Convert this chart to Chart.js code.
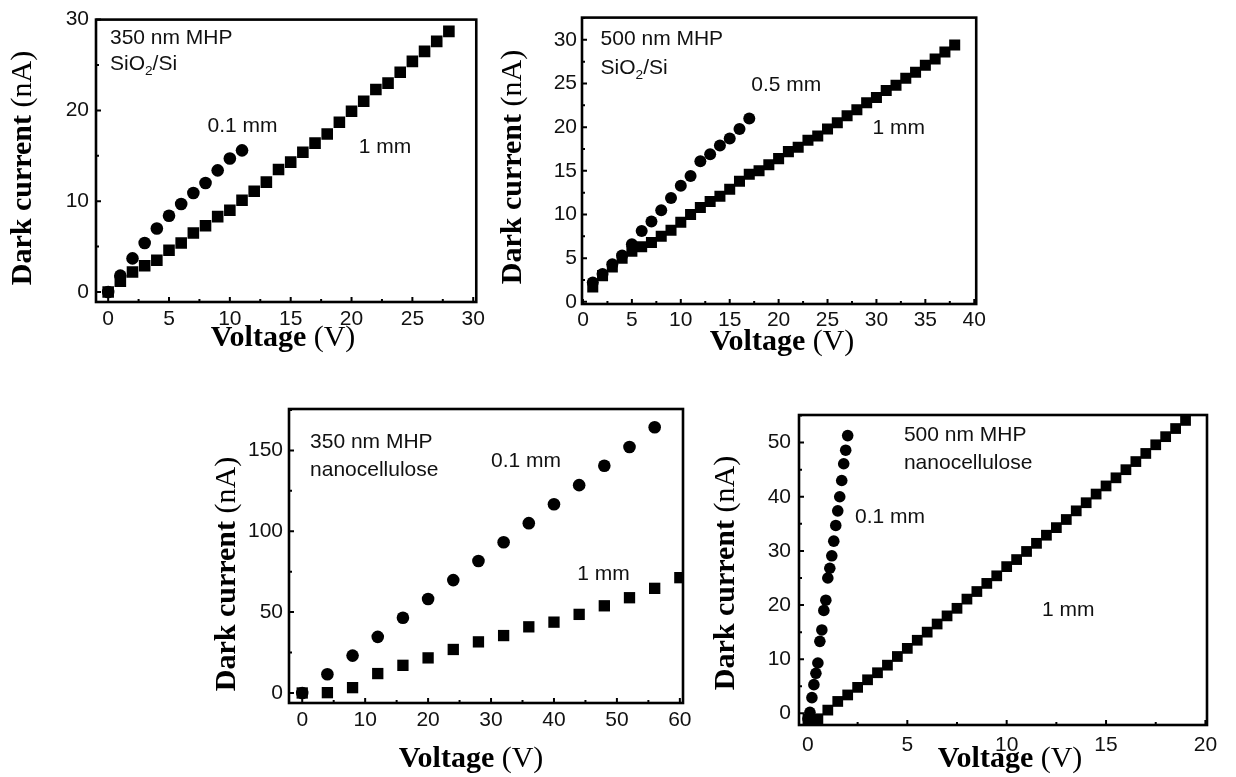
<!DOCTYPE html>
<html>
<head>
<meta charset="utf-8">
<script src="https://cdn.jsdelivr.net/npm/chart.js@4.4.1/dist/chart.umd.min.js"></script>
<style>
body { margin: 0; background: #fff; width: 1236px; height: 777px; overflow: hidden; position: relative; }
canvas { position: absolute; }
</style>
</head>
<body>
<canvas id="c1" width="490" height="365" style="left:0px;top:0px"></canvas>
<canvas id="c2" width="500" height="365" style="left:490px;top:0px"></canvas>
<canvas id="c3" width="510" height="397" style="left:190px;top:380px"></canvas>
<canvas id="c4" width="536" height="397" style="left:700px;top:380px"></canvas>
<script>
// panel a: 350 nm MHP on SiO2/Si
const aVolt1mm = [0, 1, 2, 3, 4, 5, 6, 7, 8, 9, 10, 11, 12, 13, 14, 15, 16, 17, 18, 19, 20, 21, 22, 23, 24, 25, 26, 27, 28]
const aCur1mm = [0, 1.2, 2.2, 2.9, 3.5, 4.6, 5.4, 6.5, 7.3, 8.3, 9.0, 10.1, 11.1, 12.1, 13.5, 14.3, 15.4, 16.4, 17.4, 18.7, 19.9, 21.0, 22.3, 23.0, 24.2, 25.4, 26.5, 27.6, 28.7]
const aVolt01mm = [0, 1, 2, 3, 4, 5, 6, 7, 8, 9, 10, 11]
const aCur01mm = [0, 1.8, 3.7, 5.4, 7.0, 8.4, 9.7, 10.9, 12.0, 13.4, 14.7, 15.6]
const aXTicks = [0, 5, 10, 15, 20, 25, 30]
const aYTicks = [0, 10, 20, 30]

// panel b: 500 nm MHP on SiO2/Si
const bVolt1mm = [1, 2, 3, 4, 5, 6, 7, 8, 9, 10, 11, 12, 13, 14, 15, 16, 17, 18, 19, 20, 21, 22, 23, 24, 25, 26, 27, 28, 29, 30, 31, 32, 33, 34, 35, 36, 37, 38]
const bCur1mm = [1.7, 3.0, 4.0, 5.0, 5.8, 6.3, 6.8, 7.5, 8.2, 9.1, 10.0, 10.8, 11.5, 12.1, 12.9, 13.8, 14.6, 15.0, 15.7, 16.4, 17.2, 17.7, 18.5, 19.0, 19.8, 20.5, 21.3, 22.0, 22.8, 23.4, 24.2, 24.8, 25.6, 26.3, 27.1, 27.8, 28.6, 29.4]
const bVolt05mm = [1, 2, 3, 4, 5, 6, 7, 8, 9, 10, 11, 12, 13, 14, 15, 16, 17]
const bCur05mm = [2.2, 3.2, 4.3, 5.3, 6.6, 8.1, 9.2, 10.5, 11.9, 13.3, 14.4, 16.1, 16.9, 17.9, 18.7, 19.8, 21.0]
const bXTicks = [0, 5, 10, 15, 20, 25, 30, 35, 40]
const bYTicks = [0, 5, 10, 15, 20, 25, 30]

// panel c: 350 nm MHP on nanocellulose
const cVolt01mm = [0, 4, 8, 12, 16, 20, 24, 28, 32, 36, 40, 44, 48, 52, 56]
const cCur01mm = [0, 11.6, 23.1, 34.7, 46.5, 58.1, 69.8, 81.6, 93.2, 105.0, 116.7, 128.5, 140.5, 152.1, 164.3]
const cVolt1mm = [0, 4, 8, 12, 16, 20, 24, 28, 32, 36, 40, 44, 48, 52, 56, 60]
const cCur1mm = [0, 0.2, 3.3, 12.0, 17.1, 21.7, 26.9, 31.6, 35.5, 40.9, 43.8, 48.6, 53.9, 58.9, 64.7, 71.3]
const cXTicks = [0, 10, 20, 30, 40, 50, 60]
const cYTicks = [0, 50, 100, 150]

// panel d: 500 nm MHP on nanocellulose
const dVolt01mm = [0, 0.1, 0.2, 0.3, 0.4, 0.5, 0.6, 0.7, 0.8, 0.9, 1.0, 1.1, 1.2, 1.3, 1.4, 1.5, 1.6, 1.7, 1.8, 1.9, 2.0]
const dCur01mm = [-1.0, 0.2, 2.9, 5.3, 7.4, 9.3, 13.3, 15.4, 19.0, 20.9, 25.0, 26.8, 29.1, 31.8, 34.7, 37.4, 40.0, 43.0, 46.1, 48.6, 51.3]
const dVolt1mm = [0, 0.5, 1, 1.5, 2, 2.5, 3, 3.5, 4, 4.5, 5, 5.5, 6, 6.5, 7, 7.5, 8, 8.5, 9, 9.5, 10, 10.5, 11, 11.5, 12, 12.5, 13, 13.5, 14, 14.5, 15, 15.5, 16, 16.5, 17, 17.5, 18, 18.5, 19]
const dCur1mm = [-1.0, -1.0, 0.6, 2.2, 3.4, 4.8, 6.2, 7.5, 8.9, 10.5, 12.0, 13.5, 15.0, 16.5, 18.0, 19.4, 21.1, 22.5, 24.0, 25.4, 27.1, 28.4, 29.9, 31.4, 32.9, 34.3, 35.8, 37.4, 38.9, 40.5, 42.0, 43.5, 45.0, 46.5, 48.0, 49.6, 51.1, 52.6, 54.1]
const dXTicks = [0, 5, 10, 15, 20]
const dYTicks = [0, 10, 20, 30, 40, 50]

const SANS = '"Liberation Sans", Arial, sans-serif'
const SERIF = '"Liberation Serif", "Times New Roman", serif'
const FS = 21

// text pieces: [string, bold?, subscript?]
function drawParts(ctx, parts, x, y, size, family, center) {
  let w = 0
  parts.forEach(p => {
    ctx.font = (p[1] ? 'bold ' : '') + (p[2] ? size * 0.65 : size) + 'px ' + family
    w += ctx.measureText(p[0]).width
  })
  let cx = center ? x - w / 2 : x
  parts.forEach(p => {
    ctx.font = (p[1] ? 'bold ' : '') + (p[2] ? size * 0.65 : size) + 'px ' + family
    ctx.fillText(p[0], cx, y + (p[2] ? size * 0.32 : 0))
    cx += ctx.measureText(p[0]).width
  })
}

const decor = {
  id: 'decor',
  afterDatasetsDraw(chart, args, o) {
    const ctx = chart.ctx
    const a = chart.chartArea
    const xs = chart.scales.x, ys = chart.scales.y
    ctx.save()
    ctx.strokeStyle = '#000'
    ctx.fillStyle = '#000'

    // inward tick marks, major + minor
    ctx.lineWidth = 2
    const marks = (scale, vals) => {
      const out = []
      vals.forEach((v, i) => {
        out.push([v, 5])
        const step = i < vals.length - 1 ? vals[i + 1] - v : v - vals[i - 1]
        const m = v + step / 2
        if (m > scale.min && m < scale.max) out.push([m, 3])
      })
      return out
    }
    ctx.beginPath()
    marks(xs, xs.ticks.map(t => t.value)).forEach(([v, len]) => {
      const px = xs.getPixelForValue(v)
      ctx.moveTo(px, a.bottom)
      ctx.lineTo(px, a.bottom - len)
    })
    marks(ys, ys.ticks.map(t => t.value)).forEach(([v, len]) => {
      const py = ys.getPixelForValue(v)
      ctx.moveTo(a.left, py)
      ctx.lineTo(a.left + len, py)
    })
    ctx.stroke()

    // frame
    ctx.lineWidth = 2.6
    ctx.strokeRect(a.left, a.top, a.right - a.left, a.bottom - a.top)

    // notes inside the plot
    ctx.fillStyle = '#111'
    ctx.textBaseline = 'middle'
    ctx.textAlign = 'left'
    o.notes.forEach(n => {
      drawParts(ctx, n.parts, xs.getPixelForValue(n.x), ys.getPixelForValue(n.y), FS, SANS, false)
    })

    // axis titles
    ctx.fillStyle = '#000'
    drawParts(ctx, [['Voltage ', true], ['(V)', false]], o.xTitle[0], o.xTitle[1], 30, SERIF, true)
    ctx.translate(o.yTitle[0], o.yTitle[1])
    ctx.rotate(-Math.PI / 2)
    drawParts(ctx, [['Dark current ', true], ['(nA)', false]], 0, 0, 30, SERIF, true)
    ctx.restore()
  }
}

function series(xv, yv, style, r) {
  return {
    data: xv.map((v, i) => ({ x: v, y: yv[i] })),
    pointStyle: style,
    pointRadius: r,
    pointHoverRadius: r,
    backgroundColor: '#000',
    borderColor: '#000',
    borderWidth: 0,
    showLine: false,
    clip: 0
  }
}

function panel(id, c) {
  return new Chart(document.getElementById(id), {
    type: 'scatter',
    data: { datasets: c.sets },
    options: {
      responsive: false,
      animation: false,
      events: [],
      layout: { padding: { left: 0, top: c.padTop, right: c.padRight, bottom: 0 } },
      plugins: {
        legend: { display: false },
        tooltip: { enabled: false },
        decor: { notes: c.notes, xTitle: c.xTitle, yTitle: c.yTitle }
      },
      scales: {
        x: {
          type: 'linear',
          min: c.xMin, max: c.xMax,
          afterBuildTicks: s => { s.ticks = c.xTicks.map(v => ({ value: v })) },
          afterFit: s => { s.height = c.xH },
          grid: { display: false, drawTicks: false },
          border: { display: false },
          ticks: { font: { family: SANS, size: FS }, color: '#111', padding: c.xPad, maxRotation: 0 }
        },
        y: {
          type: 'linear',
          min: c.yMin, max: c.yMax,
          afterBuildTicks: s => { s.ticks = c.yTicks.map(v => ({ value: v })) },
          afterFit: s => { s.width = c.yW },
          grid: { display: false, drawTicks: false },
          border: { display: false },
          ticks: { font: { family: SANS, size: FS }, color: '#111', padding: c.yPad }
        }
      }
    },
    plugins: [decor]
  })
}

panel('c1', {
  sets: [series(aVolt1mm, aCur1mm, 'rect', 8.2), series(aVolt01mm, aCur01mm, 'circle', 6.3)],
  xMin: -1.0, xMax: 30.25, yMin: -1.1, yMax: 30,
  xTicks: aXTicks, yTicks: aYTicks,
  padTop: 18, padRight: 12, xH: 63, yW: 96, xPad: 5, yPad: 7,
  xTitle: [283, 338], yTitle: [23, 168],
  notes: [
    { x: 0.15, y: 28.0, parts: [['350 nm MHP']] },
    { x: 0.15, y: 25.1, parts: [['SiO'], ['2', false, true], ['/Si']] },
    { x: 8.17, y: 18.3, parts: [['0.1 mm']] },
    { x: 20.6, y: 15.9, parts: [['1 mm']] }
  ]
})

panel('c2', {
  sets: [series(bVolt1mm, bCur1mm, 'rect', 7.8), series(bVolt05mm, bCur05mm, 'circle', 6)],
  xMin: -0.1, xMax: 40.2, yMin: -0.25, yMax: 32.55,
  xTicks: bXTicks, yTicks: bYTicks,
  padTop: 13, padRight: 13, xH: 61, yW: 92, xPad: 4, yPad: 5,
  xTitle: [292, 342], yTitle: [23, 167],
  notes: [
    { x: 1.8, y: 30.1, parts: [['500 nm MHP']] },
    { x: 1.8, y: 26.7, parts: [['SiO'], ['2', false, true], ['/Si']] },
    { x: 17.2, y: 24.8, parts: [['0.5 mm']] },
    { x: 29.6, y: 19.9, parts: [['1 mm']] }
  ]
})

panel('c3', {
  sets: [series(cVolt1mm, cCur1mm, 'rect', 8), series(cVolt01mm, cCur01mm, 'circle', 6.3)],
  xMin: -2.1, xMax: 60.5, yMin: -6.2, yMax: 175.6,
  xTicks: cXTicks, yTicks: cYTicks,
  padTop: 29, padRight: 17, xH: 74, yW: 99, xPad: 5, yPad: 6,
  xTitle: [281, 379], yTitle: [37, 194],
  notes: [
    { x: 1.24, y: 155.2, parts: [['350 nm MHP']] },
    { x: 1.24, y: 137.9, parts: [['nanocellulose']] },
    { x: 30.0, y: 143.4, parts: [['0.1 mm']] },
    { x: 43.7, y: 73.6, parts: [['1 mm']] }
  ]
})

panel('c4', {
  sets: [series(dVolt1mm, dCur1mm, 'rect', 7.6), series(dVolt01mm, dCur01mm, 'circle', 5.8)],
  xMin: -0.45, xMax: 20.08, yMin: -2.15, yMax: 55.1,
  xTicks: dXTicks, yTicks: dYTicks,
  padTop: 35, padRight: 29, xH: 52, yW: 99, xPad: 8, yPad: 8,
  xTitle: [310, 379], yTitle: [26, 193],
  notes: [
    { x: 4.83, y: 51.4, parts: [['500 nm MHP']] },
    { x: 4.83, y: 46.2, parts: [['nanocellulose']] },
    { x: 2.37, y: 36.3, parts: [['0.1 mm']] },
    { x: 11.78, y: 19.1, parts: [['1 mm']] }
  ]
})
</script>
</body>
</html>
